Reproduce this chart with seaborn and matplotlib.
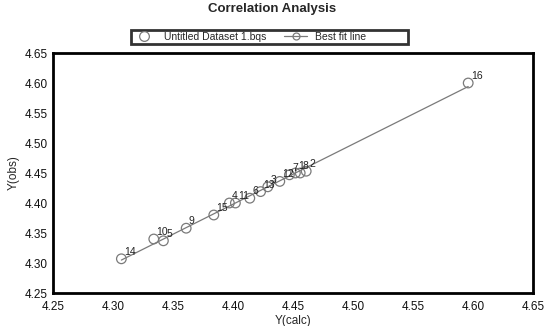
import numpy as np
import pandas as pd
import matplotlib.pyplot as plt
import seaborn as sns
from matplotlib.lines import Line2D

point_ids = ['1', '2', '3', '4', '5', '6', '7', '8', '9', '10', '11', '12', '13', '14', '15', '16']
y_calc = [4.452, 4.461, 4.429, 4.397, 4.342, 4.414, 4.447, 4.456,
          4.361, 4.334, 4.402, 4.439, 4.423, 4.307, 4.384, 4.596]
y_obs = [4.450, 4.453, 4.427, 4.400, 4.337, 4.408, 4.447, 4.450,
         4.358, 4.340, 4.400, 4.436, 4.419, 4.307, 4.380, 4.600]
ticks = [4.25, 4.30, 4.35, 4.40, 4.45, 4.50, 4.55, 4.60, 4.65]

df = pd.DataFrame({'id': point_ids, 'calc': y_calc, 'obs': y_obs})

sns.set_style('white')
plt.rcParams['font.family'] = ['Liberation Sans', 'DejaVu Sans']

fig, ax = plt.subplots(figsize=(5.45, 3.26), dpi=100)
fig.subplots_adjust(left=0.0972, right=0.978, top=0.8374, bottom=0.1012)

grey = '#7a7a7a'

# best fit line
sns.regplot(data=df, x='calc', y='obs', scatter=False, ci=None, ax=ax,
            line_kws=dict(color=grey, lw=0.9))

# data points
sns.scatterplot(data=df, x='calc', y='obs', ax=ax, s=48, marker='o',
                facecolors='none', edgecolor=grey, linewidth=0.9, legend=False)

for _, row in df.iterrows():
    ax.annotate(row['id'], (row['calc'], row['obs']), xytext=(2, 5),
                textcoords='offset points', ha='left', va='center',
                fontsize=7.5, color='#222222')

ax.set_xlim(4.25, 4.65)
ax.set_ylim(4.25, 4.65)
ax.set_xticks(ticks)
ax.set_yticks(ticks)
ax.set_xticklabels([f'{t:.2f}' for t in ticks])
ax.set_yticklabels([f'{t:.2f}' for t in ticks])
ax.tick_params(direction='in', length=3, width=0.8, color='#999999',
               labelsize=8.5, labelcolor='#111111')
ax.tick_params(axis='x', pad=6)
ax.tick_params(axis='y', pad=4)

for spine in ax.spines.values():
    spine.set_visible(True)
    spine.set_color('black')
    spine.set_linewidth(2)

ax.set_xlabel('Y(calc)', fontsize=8.5, labelpad=1)
ax.set_ylabel('Y(obs)', fontsize=8.5, labelpad=3)

fig.suptitle('Correlation Analysis', x=0.5, y=0.99, fontsize=9.5,
             fontweight='bold', va='top')

handles = [
    Line2D([], [], ls='none', marker='o', ms=7, mfc='none', mec=grey, mew=0.9),
    Line2D([], [], color=grey, lw=0.9, marker='o', ms=5, mfc='none', mec=grey, mew=0.9),
]
# trailing spaces keep the box as wide as the original one
leg = fig.legend(handles, ['Untitled Dataset 1.bqs', 'Best fit line' + ' ' * 14], ncol=2,
                 loc='center left', bbox_to_anchor=(126 / 545, 1 - 37 / 326),
                 fontsize=7.5, frameon=True, fancybox=False, borderpad=0.15,
                 handlelength=2.2, handletextpad=0.8, columnspacing=1.7)
leg.get_frame().set_edgecolor('black')
leg.get_frame().set_linewidth(2)

plt.savefig('out.png', dpi=100)
